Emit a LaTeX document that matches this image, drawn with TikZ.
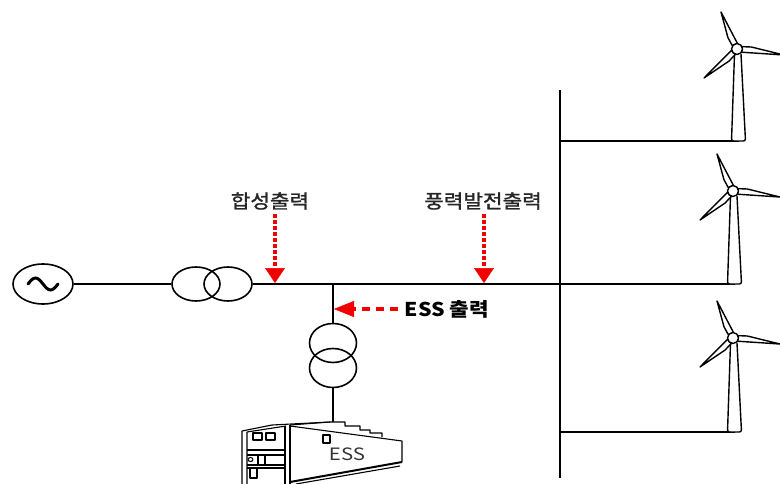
\documentclass[tikz,border=0pt]{standalone}
\usepackage{fontspec}
\setmainfont{Noto Sans CJK KR}
\newfontfamily\midfont[FakeBold=1.3]{Noto Sans CJK KR}
\usetikzlibrary{arrows.meta,shapes.geometric}

\definecolor{flowred}{RGB}{240,0,0}
\newcommand{\wider}[1]{\scalebox{1.12}[1]{#1}}
\newcommand{\windturbine}[3]{%
  \begin{scope}[shift={(#1,#2)}]
    \draw[turb, fill=white, rounded corners=2pt] (-2.5,5) -- (-5.5,{#3-#2}) -- (8.5,{#3-#2}) -- (4,5);
    \foreach \ang/\len in {113.4/40.3,-7.3/47.4,221.3/43.9}
      \draw[turb, fill=white, rotate=\ang] (5,-3) -- (14,-3.8) -- (\len,0) -- (5,2.6) -- cycle;
    \draw[turb, fill=white] (0,0) circle (5.5);
  \end{scope}}

\begin{document}
\begin{tikzpicture}[x=1pt, y=-1pt, line width=1.6pt,
  turb/.style={line width=1.4pt, line join=round},
  coil/.style={ellipse, draw, minimum width=48pt, minimum height=34pt, inner sep=0pt},
  source/.style={ellipse, draw, minimum width=60pt, minimum height=40pt, inner sep=0pt,
    path picture={\draw[line width=3pt, line cap=round] ([xshift=-15pt]path picture bounding box.center)
      sin ++(7.5,-6) cos ++(7.5,6) sin ++(7.5,6) cos ++(7.5,-6);}},
  outtext/.style={font=\fontsize{19}{19}\selectfont\midfont, text=black!85, inner sep=0pt},
  flow/.style={draw=flowred, line width=3.6pt, dash pattern=on 3.5pt off 2.5pt,
    -{Triangle[width=20pt, length=15pt, line width=0.5pt, fill=flowred]}},
  essflow/.style={draw=flowred, line width=4pt, dash pattern=on 8pt off 6pt,
    -{Triangle[width=16pt, length=20pt, line width=0.5pt, fill=flowred]}}]
  \useasboundingbox (0,0) rectangle (780,484);

  \node[source] (gen) at (43,284) {};
  \node[coil] (tra) at (196,284) {};
  \node[coil] (trb) at (228,284) {};
  \node[coil, minimum width=47pt, minimum height=39pt] (trc) at (333,343) {};
  \node[coil, minimum width=47pt, minimum height=39pt] (trd) at (333,368) {};

  \node[outtext] (sumlbl) at (270,201) {\wider{합성출력}};
  \node[outtext] (windlbl) at (483,201) {\wider{풍력발전출력}};
  \node[outtext, font=\fontsize{19}{19}\selectfont\bfseries, text=black] (esslbl) at (447,309) {\wider{ESS 출력}};

  \coordinate (sumin) at (275,283);
  \coordinate (windin) at (484,283);
  \coordinate (essin) at (334,309);
  \coordinate (tap) at (333,284);
  \coordinate (bustop) at (560,90);
  \coordinate (busbot) at (560,478);
  \coordinate (wt1) at (738.5,141);
  \coordinate (wt2) at (734.5,284);
  \coordinate (wt3) at (734.5,432);
  \coordinate (esstop) at (333,422);

  \draw (gen) -- (tra);
  \draw (trb) -- (wt2);
  \draw (bustop) -- (busbot);
  \draw (bustop |- wt1) -- (wt1);
  \draw (bustop |- wt3) -- (wt3);
  \draw (tap) -- (trc);
  \draw (trd) -- (esstop);

  \draw[flow] ([yshift=-4pt]sumlbl.south -| sumin) -- (sumin);
  \draw[flow] ([yshift=-4pt]windlbl.south -| windin) -- (windin);
  \draw[essflow] ([xshift=-6pt]esslbl.west) -- (essin);

  \windturbine{737}{49}{141}
  \windturbine{733}{191}{284}
  \windturbine{733}{338}{432}

  % battery container
  \begin{scope}[line width=1.1pt, line join=round]
    \draw (242,484) -- (242,431) -- (272,425) -- (330,422);
    \draw (247,484) -- (247,432) -- (286,426);
    \draw (285,484) -- (285,426);
    \draw (290,484) -- (290,425);
    \draw (247,450) -- (285,450) (247,455) -- (285,455) (247,465) -- (285,465) (247,468) -- (285,468);
    \draw (253,433) rectangle (262,440) (266,433) rectangle (275,440);
    \draw (250.5,459.5) ellipse (2.5 and 2);
    \draw (258,455) rectangle (265,465) (250,468) rectangle (257,478);
    \draw (290,425) -- (330,422) -- (345,422) -- (345,426) -- (360,426) -- (360,430)
      -- (370,430) -- (370,433) -- (382,433) -- (382,437);
    \draw (290,426) -- (402,441) -- (402,462);
    \draw[line width=2pt] (290,482) -- (402,462);
    \draw (296,484) -- (400,466);
    \draw (323,435) rectangle (330,443);
    \node[font=\fontsize{17}{17}\selectfont, text=black!80] (esstxt) at (347,454) {\scalebox{1.2}[1]{ESS}};
  \end{scope}
\end{tikzpicture}
\end{document}
